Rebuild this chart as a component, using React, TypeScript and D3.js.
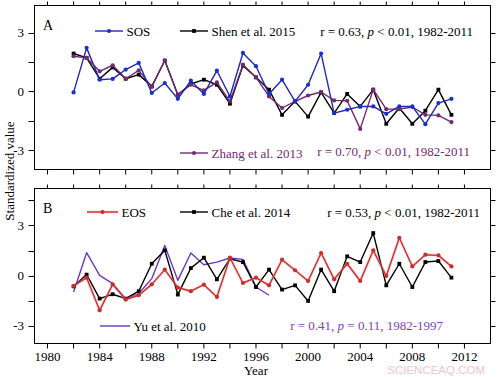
import React from "react";
import * as d3 from "d3";

const years = [1982, 1983, 1984, 1985, 1986, 1987, 1988, 1989, 1990, 1991, 1992, 1993, 1994, 1995, 1996, 1997, 1998, 1999, 2000, 2001, 2002, 2003, 2004, 2005, 2006, 2007, 2008, 2009, 2010, 2011];
const yuYears = [1982, 1983, 1984, 1985, 1986, 1987, 1988, 1989, 1990, 1991, 1992, 1993, 1994, 1995, 1996, 1997];

const sos = [-0.05, 2.23, 0.6, 0.64, 1.12, 1.46, -0.08, 0.43, -0.38, 0.55, -0.13, 1.06, -0.26, 1.97, 1.29, -0.13, 0.6, -0.51, 0.34, 1.94, -1.11, -0.94, -0.77, -0.77, -1.15, -0.77, -0.77, -1.68, -0.6, -0.38];
const shen = [1.94, 1.72, 0.65, 1.23, 0.65, 0.86, 0.26, 1.58, -0.17, 0.38, 0.6, 0.34, -0.63, 1.32, 0.72, 0.09, -1.2, -0.51, -1.29, -0.05, -1.11, -0.13, -0.77, 0.09, -1.66, -0.85, -1.66, -0.99, 0.09, -1.2];
const zhang = [1.8, 1.72, 1.03, 1.34, 0.65, 1.08, 0.23, 1.58, -0.17, 0.34, 0.05, 0.46, -0.51, 1.37, 0.72, -0.26, -0.85, -0.51, -0.21, -0.03, -0.46, -0.48, -1.92, 0.09, -0.91, -0.91, -0.8, -1.2, -1.23, -1.57];

const eos = [-0.62, -0.12, -2.07, -0.52, -1.43, -1.17, -0.52, 0.36, -0.71, -0.93, -0.54, -1.27, 1.07, -0.44, -0.12, -0.58, 0.95, 0.32, -0.32, 1.35, -0.22, 0.71, -0.32, 1.51, -0.02, 2.26, 0.55, 1.25, 1.21, 0.55];
const che = [-0.64, 0.06, -1.37, -1.11, -1.37, -0.93, 0.71, 1.51, -1.13, 0.45, 1.07, -0.22, 1.01, 0.81, -0.68, 0.36, -0.83, -0.58, -1.51, 0.36, -0.93, 1.15, 0.81, 2.54, -0.58, 0.71, -0.68, 0.81, 0.87, -0.12];
const yu = [-0.98, 1.37, 0.02, -0.48, -1.37, -1.07, -0.18, 1.8, -0.28, 1.35, 0.65, 0.81, 1.05, 0.97, -0.68, -1.17];

const xTicks = [1980, 1982, 1984, 1986, 1988, 1990, 1992, 1994, 1996, 1998, 2000, 2002, 2004, 2006, 2008, 2010, 2012];
const xLabels = [1980, 1984, 1988, 1992, 1996, 2000, 2004, 2008, 2012];
const yTicks = [-3, -1.5, 0, 1.5, 3, 4.5];
const yLabels = [-3, 0, 3];

const FONT = "'Liberation Serif', 'Times New Roman', serif";
const BLUE = "#2228b0";
const BLUE_M = "#1432d0";
const PURPLE = "#722a70";
const VIOLET = "#6e36c8";
const RED = "#cc2c2c";

const x = d3.scaleLinear().domain([1979, 2014]).range([34.5, 490.5]);
const yA = d3.scaleLinear().domain([-4, 4.4]).range([169.5, 5.5]);
const yB = d3.scaleLinear().domain([-4.05, 5.2]).range([343.5, 188.5]);

type Pt = [number, number];
const pts = (ys: number[], vals: number[]): Pt[] => ys.map((yr, i) => [yr, vals[i]]);

function Series({ data, y, color, marker, mcolor, glow }: { data: Pt[]; y: any; color: string; marker?: "circle" | "square"; mcolor?: string; glow?: boolean }) {
  const line = d3.line<Pt>().x((d) => x(d[0])).y((d) => y(d[1]));
  const path = line(data) || "";
  return (
    <g>
      {glow && <path d={path} fill="none" stroke="#f2a0a8" strokeWidth={3.2} strokeOpacity={0.35} strokeLinejoin="round" />}
      <path d={path} fill="none" stroke={color} strokeWidth={1.4} strokeLinejoin="round" />
      {marker === "circle" && data.map((d, i) => <circle key={i} cx={x(d[0])} cy={y(d[1])} r={2.1} fill={mcolor || color} />)}
      {marker === "square" && data.map((d, i) => <rect key={i} x={x(d[0]) - 1.9} y={y(d[1]) - 1.9} width={3.8} height={3.8} fill={mcolor || color} />)}
    </g>
  );
}

function Frame({ y, top, bottom, showLabels }: { y: any; top: number; bottom: number; showLabels: boolean }) {
  const left = x.range()[0];
  const right = x.range()[1];
  const [d0, d1] = y.domain();
  const yt = yTicks.filter((v) => v >= d0 && v <= d1);
  return (
    <g stroke="#000" strokeWidth={1}>
      <rect x={left} y={top} width={right - left} height={bottom - top} fill="none" />
      {xTicks.map((t) => (
        <g key={t}>
          <line x1={x(t)} x2={x(t)} y1={top} y2={top - 4} />
          <line x1={x(t)} x2={x(t)} y1={bottom} y2={bottom + 5} />
        </g>
      ))}
      {yt.map((t) => (
        <g key={t}>
          <line x1={left} x2={left - 6} y1={Math.round(y(t)) + 0.5} y2={Math.round(y(t)) + 0.5} />
          <line x1={right} x2={right + 5} y1={Math.round(y(t)) + 0.5} y2={Math.round(y(t)) + 0.5} />
        </g>
      ))}
      {yLabels.map((t) => (
        <text key={t} x={24} y={y(t)} dy="0.35em" textAnchor="end" stroke="none" fill="#000" fontSize={13}>
          {String(t)}
        </text>
      ))}
      {showLabels &&
        xLabels.map((t) => (
          <text key={t} x={x(t)} y={361} textAnchor="middle" stroke="none" fill="#000" fontSize={13}>
            {t}
          </text>
        ))}
    </g>
  );
}

function Legend({ x1, x2, y, color, marker, mcolor, label, glow }: any) {
  const mx = (x1 + x2) / 2;
  return (
    <g>
      {glow && <line x1={x1} x2={x2} y1={y} y2={y} stroke="#f2a0a8" strokeWidth={3.2} strokeOpacity={0.35} />}
      <line x1={x1} x2={x2} y1={y} y2={y} stroke={color} strokeWidth={1.4} />
      {marker === "circle" && <circle cx={mx} cy={y} r={2.1} fill={mcolor || color} />}
      {marker === "square" && <rect x={mx - 1.9} y={y - 1.9} width={3.8} height={3.8} fill={mcolor || color} />}
      <text x={x2 + 3.5} y={y} dy="0.35em" fontSize={13} fill={label.color || "#000"}>
        {label.text}
      </text>
    </g>
  );
}

function Stat({ xEnd, y, r, p, op, span, color }: any) {
  return (
    <text x={xEnd} y={y} dy="0.35em" textAnchor="end" fontSize={13} fill={color}>
      {`r = ${r}, `}
      <tspan fontStyle="italic">p</tspan>
      {` ${op} ${p}, ${span}`}
    </text>
  );
}

export default function App() {
  return (
    <svg width={500} height={377} style={{ position: "absolute", left: 0, top: 0, fontFamily: FONT }}>
      <rect width={500} height={377} fill="#fff" />
      <Frame y={yA} top={5.5} bottom={169.5} showLabels={false} />
      <Frame y={yB} top={188.5} bottom={343.5} showLabels={true} />

      {/* Panel A */}
      <Series data={pts(years, shen)} y={yA} color="#000" marker="square" />
      <Series data={pts(years, zhang)} y={yA} color={PURPLE} marker="circle" />
      <Series data={pts(years, sos)} y={yA} color={BLUE} marker="circle" mcolor={BLUE_M} />

      <text x={43} y={29.5} fontSize={14} fill="#000">A</text>
      <Legend x1={95} x2={123} y={31} color={BLUE} marker="circle" mcolor={BLUE_M} label={{ text: "SOS" }} />
      <Legend x1={180} x2={208} y={31} color="#000" marker="square" label={{ text: "Shen et al. 2015" }} />
      <Legend x1={180} x2={208} y={153} color={PURPLE} marker="circle" label={{ text: "Zhang et al. 2013", color: PURPLE }} />
      <Stat xEnd={473} y={31} r="0.63" op="<" p="0.01" span="1982-2011" color="#000" />
      <Stat xEnd={470} y={151.5} r="0.70" op="<" p="0.01" span="1982-2011" color={PURPLE} />

      {/* Panel B */}
      <Series data={pts(yuYears, yu)} y={yB} color={VIOLET} />
      <Series data={pts(years, che)} y={yB} color="#000" marker="square" />
      <Series data={pts(years, eos)} y={yB} color={RED} marker="circle" glow />

      <text x={43} y={213} fontSize={14} fill="#000">B</text>
      <Legend x1={87} x2={118} y={212} color={RED} marker="circle" glow label={{ text: "EOS" }} />
      <Legend x1={180} x2={208} y={212} color="#000" marker="square" label={{ text: "Che et al. 2014" }} />
      <Legend x1={100} x2={130} y={326} color={VIOLET} label={{ text: "Yu et al. 2010" }} />
      <Stat xEnd={480} y={212} r="0.53" op="<" p="0.01" span="1982-2011" color="#000" />
      <Stat xEnd={443} y={325} r="0.41" op="=" p="0.11" span="1982-1997" color="#7a44b8" />

      {/* Axis titles */}
      <text x={256} y={374.5} textAnchor="middle" fontSize={13} fill="#000">Year</text>
      <text transform="translate(14,171) rotate(-90)" textAnchor="middle" fontSize={13} fill="#000">
        Standardized value
      </text>
      <text x={485} y={374} textAnchor="end" fontSize={11.5} fill="#f2c4cc" fontFamily="'Liberation Sans', Arial, sans-serif">
        SCIENCEAQ.COM
      </text>
    </svg>
  );
}
